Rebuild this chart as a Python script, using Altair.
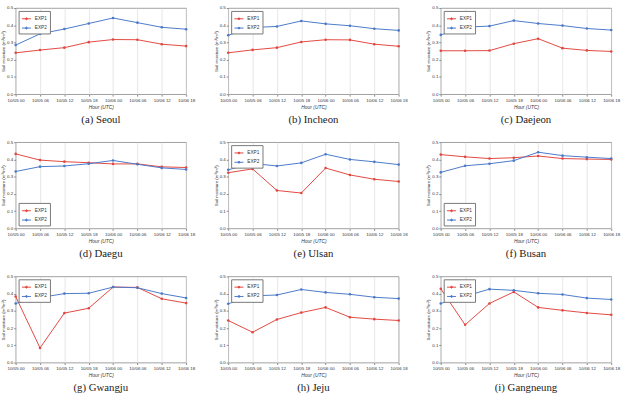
import altair as alt
import pandas as pd

# Forecast hours shown on every panel
hours = ["10/05 00", "10/05 06", "10/05 12", "10/05 18",
         "10/06 00", "10/06 06", "10/06 12", "10/06 18"]

stations = ["Seoul", "Incheon", "Daejeon", "Daegu", "Ulsan",
            "Busan", "Gwangju", "Jeju", "Gangneung"]
captions = ["(a) Seoul", "(b) Incheon", "(c) Daejeon", "(d) Daegu", "(e) Ulsan",
            "(f) Busan", "(g) Gwangju", "(h) Jeju", "(i) Gangneung"]

# Soil moisture (m3/m3) for each experiment
exp1_seoul = [0.240, 0.256, 0.270, 0.302, 0.317, 0.316, 0.290, 0.279]
exp2_seoul = [0.285, 0.350, 0.378, 0.410, 0.442, 0.415, 0.388, 0.377]
exp1_incheon = [0.240, 0.257, 0.270, 0.303, 0.316, 0.315, 0.290, 0.278]
exp2_incheon = [0.342, 0.387, 0.393, 0.425, 0.408, 0.397, 0.380, 0.370]
exp1_daejeon = [0.252, 0.252, 0.253, 0.293, 0.322, 0.267, 0.254, 0.248]
exp2_daejeon = [0.344, 0.389, 0.395, 0.427, 0.410, 0.398, 0.381, 0.372]
exp1_daegu = [0.432, 0.396, 0.387, 0.381, 0.374, 0.374, 0.357, 0.353]
exp2_daegu = [0.330, 0.358, 0.362, 0.375, 0.394, 0.372, 0.351, 0.342]
exp1_ulsan = [0.323, 0.345, 0.220, 0.205, 0.350, 0.310, 0.285, 0.272]
exp2_ulsan = [0.340, 0.377, 0.362, 0.380, 0.430, 0.400, 0.386, 0.370]
exp1_busan = [0.428, 0.415, 0.405, 0.410, 0.420, 0.405, 0.402, 0.400]
exp2_busan = [0.325, 0.363, 0.375, 0.393, 0.442, 0.422, 0.413, 0.405]
exp1_gwangju = [0.383, 0.085, 0.287, 0.315, 0.438, 0.436, 0.370, 0.345]
exp2_gwangju = [0.343, 0.377, 0.400, 0.402, 0.438, 0.434, 0.400, 0.375]
exp1_jeju = [0.244, 0.176, 0.250, 0.290, 0.320, 0.263, 0.252, 0.244]
exp2_jeju = [0.341, 0.387, 0.392, 0.424, 0.407, 0.396, 0.379, 0.371]
exp1_gangneung = [0.428, 0.219, 0.343, 0.410, 0.320, 0.303, 0.288, 0.277]
exp2_gangneung = [0.343, 0.385, 0.426, 0.419, 0.402, 0.395, 0.374, 0.366]

series = {
    "Seoul": (exp1_seoul, exp2_seoul),
    "Incheon": (exp1_incheon, exp2_incheon),
    "Daejeon": (exp1_daejeon, exp2_daejeon),
    "Daegu": (exp1_daegu, exp2_daegu),
    "Ulsan": (exp1_ulsan, exp2_ulsan),
    "Busan": (exp1_busan, exp2_busan),
    "Gwangju": (exp1_gwangju, exp2_gwangju),
    "Jeju": (exp1_jeju, exp2_jeju),
    "Gangneung": (exp1_gangneung, exp2_gangneung),
}
legend_bottom = {"Daegu", "Busan"}

RED = "#e2473f"
BLUE = "#4a79c9"
SANS = "Liberation Sans"
SERIF = "Liberation Serif"

# line with a dot in the middle, for the legend swatch
LEGEND_SYMBOL = ("M -1 0 L 1 0 M -0.2 0 A 0.2 0.2 0 1 0 0.2 0 "
                 "A 0.2 0.2 0 1 0 -0.2 0")


def panel(station, caption):
    e1, e2 = series[station]
    rows = []
    for h, a, b in zip(hours, e1, e2):
        rows.append({"hour": h, "run": "EXP1", "value": a})
        rows.append({"hour": h, "run": "EXP2", "value": b})
    df = pd.DataFrame(rows)
    corner = "bottom-left" if station in legend_bottom else "top-left"
    return alt.Chart(df).mark_line(
        strokeWidth=1,
        point=alt.OverlayMarkDef(size=7, filled=True, shape="circle"),
    ).encode(
        x=alt.X("hour:O", sort=hours, scale=alt.Scale(padding=0),
                axis=alt.Axis(title="Hour (UTC)", labelAngle=0, grid=True,
                              gridColor="#dcdcdc", gridWidth=0.7,
                              labelFontSize=4.5, labelFont=SANS, labelColor="#333",
                              tickSize=2, tickColor="#888", labelPadding=1.5,
                              titleFontSize=5, titleFont=SANS, titleFontStyle="italic",
                              titleFontWeight="normal", titleColor="#333",
                              titlePadding=2.5, domain=False)),
        y=alt.Y("value:Q", scale=alt.Scale(domain=[0, 0.5], nice=False, zero=True),
                axis=alt.Axis(title="Soil moisture (m³/m³)", values=[0, 0.1, 0.2, 0.3, 0.4, 0.5],
                              format=".1f", grid=False,
                              labelFontSize=4.5, labelFont=SANS, labelColor="#333",
                              tickSize=2, tickColor="#888", labelPadding=1,
                              titleFontSize=4.5, titleFont=SANS,
                              titleFontWeight="normal", titleColor="#333",
                              titlePadding=1, domain=False)),
        color=alt.Color("run:N",
                        scale=alt.Scale(domain=["EXP1", "EXP2"], range=[RED, BLUE]),
                        legend=alt.Legend(title=None, orient=corner, offset=3,
                                          fillColor="white", strokeColor="#777",
                                          padding=2.5, labelFontSize=4.8, labelFont=SANS,
                                          labelColor="#333", symbolType=LEGEND_SYMBOL,
                                          symbolSize=85, symbolStrokeWidth=1,
                                          rowPadding=0.5, labelOffset=3)),
    ).properties(
        width=174, height=88,
        title=alt.TitleParams(caption, orient="bottom", font=SERIF, fontSize=11,
                              fontWeight="normal", color="#222", offset=5),
    )


charts = [panel(s, c) for s, c in zip(stations, captions)]
rows = [
    alt.hconcat(*charts[i:i + 3], spacing=17)
    .resolve_scale(color="independent").resolve_legend(color="independent")
    for i in (0, 3, 6)
]
chart = alt.vconcat(*rows, spacing=13).resolve_scale(
    color="independent").resolve_legend(color="independent").configure_view(
    stroke="#888", strokeWidth=0.8).properties(
    padding={"left": 0, "top": 0, "right": 0, "bottom": 0}, background="white")

chart.save("out.html", embed_options={"renderer": "svg", "actions": False})
